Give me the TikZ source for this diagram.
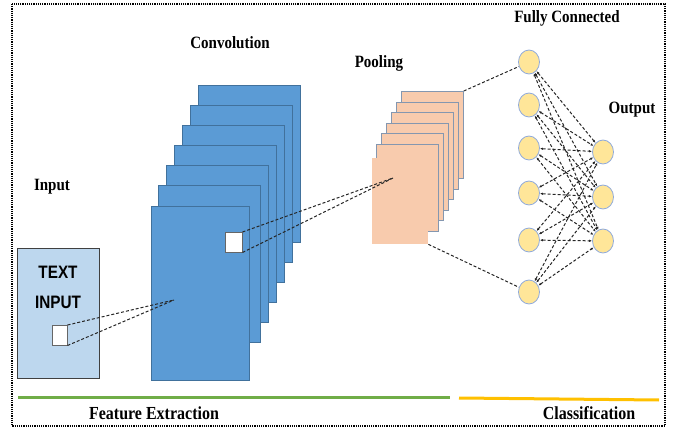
\documentclass[tikz,border=0pt]{standalone}
\usepackage{fontspec}
\setmainfont{Liberation Serif}
\newfontfamily\boxfont{Liberation Sans}
\usetikzlibrary{arrows.meta,shapes.geometric}
\definecolor{convblue}{HTML}{5B9BD5}
\definecolor{convedge}{HTML}{41719C}
\definecolor{inblue}{HTML}{BDD7EE}
\definecolor{poolfill}{HTML}{F8CBAD}
\definecolor{pooledge}{HTML}{8497B0}
\definecolor{nodefill}{HTML}{FFE699}
\definecolor{nodeedge}{HTML}{8FAADC}
\definecolor{featgreen}{HTML}{70AD47}
\definecolor{clsyellow}{HTML}{FFC000}
\tikzset{
  title/.style={font=\fontsize{15}{17}\selectfont\bfseries, yscale=1.15, inner sep=0pt},
  bigtitle/.style={font=\fontsize{16}{18}\selectfont\bfseries, yscale=1.15, inner sep=0pt},
  convlayer/.style={draw=convedge, fill=convblue, line width=0.5pt, minimum width=102pt, minimum height=157pt, inner sep=0pt, anchor=north west},
  poollayer/.style={draw=pooledge, fill=poolfill, line width=0.8pt, minimum width=62pt, minimum height=87pt, inner sep=0pt, anchor=north west},
  patch/.style={draw=black!60, fill=white, line width=0.5pt, inner sep=0pt, anchor=north west},
  neuron/.style={ellipse, draw=nodeedge, fill=nodefill, line width=0.8pt, minimum width=21pt, minimum height=24pt, inner sep=0pt},
  link/.style={draw=black!85, line width=1pt, dash pattern=on 3pt off 2pt},
  boxtext/.style={font=\boxfont\fontsize{18}{20}\selectfont\bfseries, xscale=0.85, inner sep=0pt}
}
\begin{document}
\begin{tikzpicture}[x=1pt,y=-1pt]
\useasboundingbox (0,0) rectangle (675,430);
\draw[line width=1.2pt, dash pattern=on 1.2pt off 1pt] (12,4) rectangle (665,426);

\node[draw=black!75, fill=inblue, line width=0.8pt, minimum width=82pt, minimum height=130pt, inner sep=0pt, anchor=north west] (input) at (17,248) {};
\node[boxtext] (txt1) at (58,272) {TEXT};
\node[boxtext] (txt2) at (58,302) {INPUT};
\node[patch, minimum width=15pt, minimum height=20pt] (ipatch) at (52,325) {};
\node[title] (inlbl) at (52,187) {Input};

\foreach \i in {0,...,5}
  \node[convlayer] (conv\i) at ({198-8*\i},{85+20*\i}) {};
\node[convlayer, minimum width=98pt, minimum height=174pt] (conv6) at (151,206) {};
\node[patch, minimum width=17pt, minimum height=20pt] (cpatch) at (225,232) {};
\node[title] (convlbl) at (230,43) {Convolution};
\coordinate (cin) at (174,300);

\foreach \i in {0,...,5}
  \node[poollayer] (pool\i) at ({401-5*\i},{91+10.6*\i}) {};
\node[fill=poolfill, minimum width=56pt, minimum height=86pt, inner sep=0pt, anchor=north west] (pool6) at (372,158) {};
\node[title] (poollbl) at (379,63) {Pooling};
\coordinate (pin) at (393,178);

\foreach \y [count=\k] in {62,105,148,193,240,292}
  \node[neuron] (fc\k) at (529,\y) {};
\foreach \y [count=\k] in {152,197,241}
  \node[neuron] (out\k) at (603,\y) {};
\node[title] (fclbl) at (567,18) {Fully Connected};
\node[title] (outlbl) at (632,110) {Output};

\draw[link] (ipatch.north east) -- (cin);
\draw[link] (ipatch.south east) -- (cin);
\draw[link] (cpatch.north east) -- (pin);
\draw[link] (cpatch.south east) -- (pin);
\draw[link] (pool0.north east) -- (fc1);
\draw[link] (pool6.south east) -- (fc6);
\foreach \a in {1,...,6}
  \foreach \b in {1,2,3}
    \draw[link, {Latex[length=3pt,width=2.5pt]}-{Latex[length=3pt,width=2.5pt]}] (fc\a) -- (out\b);

\draw[featgreen, line width=3pt] (18,397) -- (450,397);
\draw[clsyellow, line width=3pt] (459,398) -- (659,400);
\node[bigtitle] (featlbl) at (154,413) {Feature Extraction};
\node[bigtitle] (clslbl) at (589,413) {Classification};
\end{tikzpicture}
\end{document}
